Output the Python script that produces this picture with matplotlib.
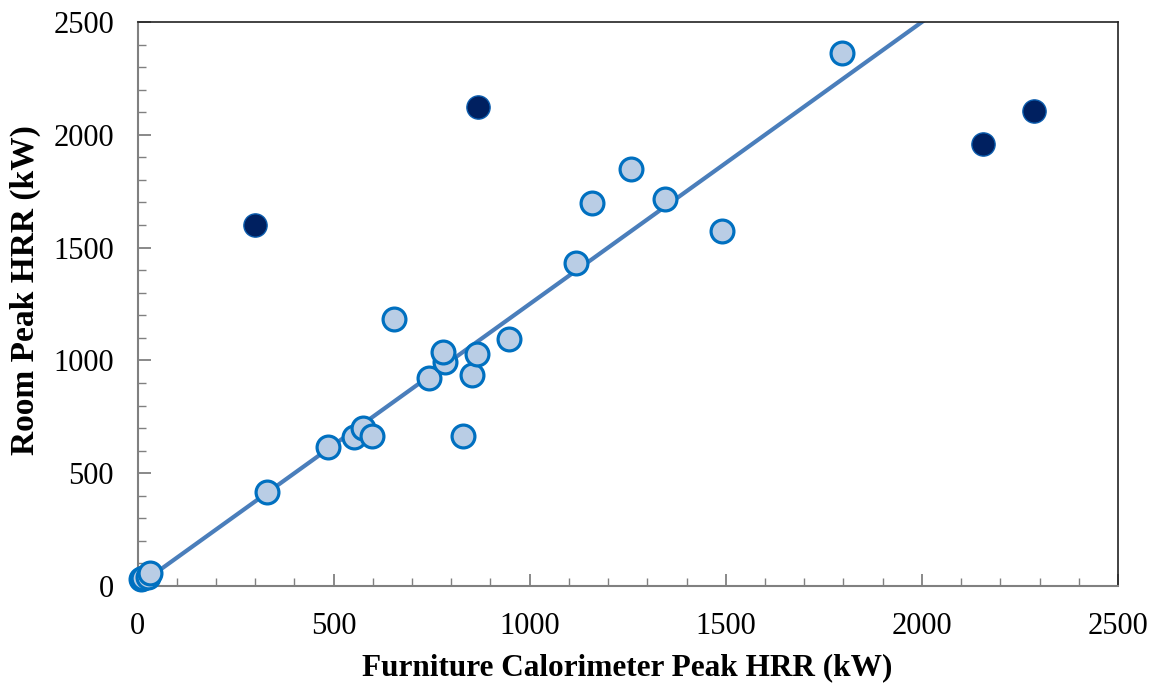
import matplotlib
matplotlib.use("Agg")
import matplotlib.pyplot as plt
from matplotlib.ticker import MultipleLocator

# Light-coloured data points (furniture calorimeter vs room peak HRR)
x_light = [8, 15, 27, 32, 330, 486, 552, 575, 598, 654, 743, 784, 779, 830,
           853, 866, 947, 1118, 1159, 1258, 1345, 1490, 1796]
y_light = [30, 36, 40, 57, 417, 616, 660, 700, 665, 1183, 922, 993, 1037, 665,
           935, 1028, 1095, 1432, 1698, 1848, 1715, 1574, 2363]

# Dark outlier points
x_dark = [300, 868, 2156, 2286]
y_dark = [1600, 2123, 1959, 2105]

# Fit line endpoints (x values) and slope
fit_x = [0, 2100]
fit_slope = 1.25

plt.rcParams['font.family'] = ['Liberation Serif', 'DejaVu Serif']

fig = plt.figure(figsize=(11.52, 6.86), dpi=100)
ax = fig.add_axes([137.5/1152, 1 - 586/686, (1118-137.5)/1152, (586-22)/686])

fit_y = [fit_slope * v for v in fit_x]
ax.plot(fit_x, fit_y, color='#4A7EBB', lw=3, zorder=2, solid_capstyle='butt')
ax.scatter(x_light, y_light, s=270, facecolor='#B9CDE5', edgecolor='#0070C0',
           linewidths=2.3, zorder=3, clip_on=False)
ax.scatter(x_dark, y_dark, s=280, facecolor='#002060', edgecolor='#0B5CAD',
           linewidths=1.0, zorder=4)

ax.set_xlim(0, 2500)
ax.set_ylim(0, 2500)
ax.xaxis.set_major_locator(MultipleLocator(500))
ax.yaxis.set_major_locator(MultipleLocator(500))
ax.xaxis.set_minor_locator(MultipleLocator(100))
ax.yaxis.set_minor_locator(MultipleLocator(100))

ax.tick_params(axis='both', which='major', direction='in', length=9, width=1.3,
               color='#808080', labelsize=22)
ax.tick_params(axis='both', which='minor', direction='in', length=6, width=1.0,
               color='#808080')
ax.tick_params(axis='x', which='major', pad=19)
ax.tick_params(axis='y', which='major', pad=17)

for s in ['left', 'bottom']:
    ax.spines[s].set_color('#808080')
    ax.spines[s].set_linewidth(1.5)
for s in ['top', 'right']:
    ax.spines[s].set_color('#222222')
    ax.spines[s].set_linewidth(1.2)

ax.set_xlabel('Furniture Calorimeter Peak HRR (kW)', fontsize=22.5, fontweight='bold')
ax.set_ylabel('Room Peak HRR (kW)', fontsize=24, fontweight='bold')
ax.xaxis.set_label_coords((627 - 137.5) / (1118 - 137.5), -(668 - 586) / (586 - 22))
ax.yaxis.set_label_coords(-(137.5 - 25) / (1118 - 137.5), (586 - 290) / (586 - 22))
ax.xaxis.label.set_va('center')
ax.yaxis.label.set_va('center')

fig.savefig('out.png', dpi=100)
